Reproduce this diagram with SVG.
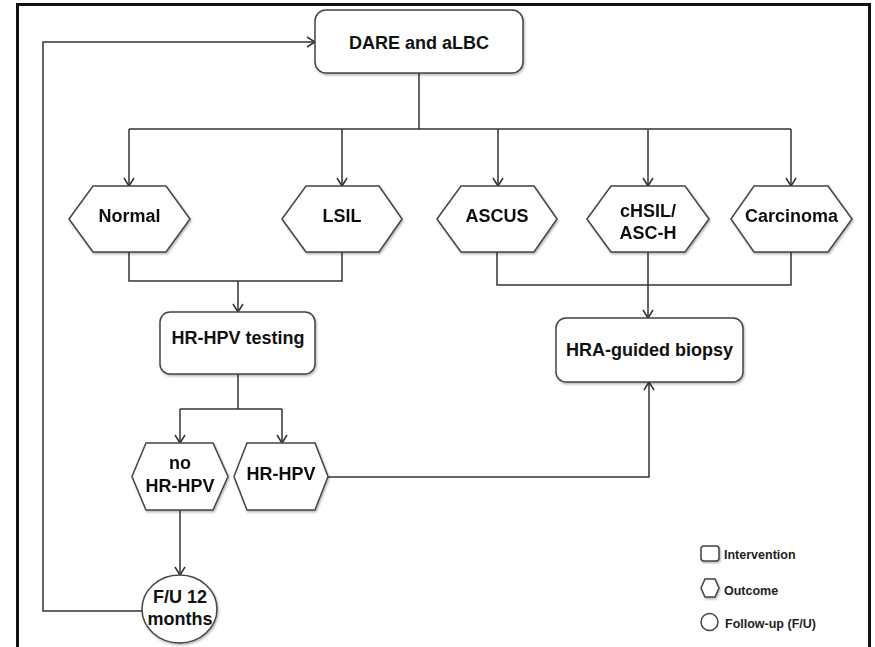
<svg xmlns="http://www.w3.org/2000/svg" width="875" height="647" viewBox="0 0 875 647">
  <defs>
    <filter id="shadow" x="-10%" y="-10%" width="125%" height="130%">
      <feDropShadow dx="1" dy="1.5" stdDeviation="1" flood-color="#000" flood-opacity="0.3"/>
    </filter>
    <marker id="arrow" markerUnits="userSpaceOnUse" markerWidth="12" markerHeight="12" refX="9" refY="6" orient="auto">
      <path d="M1,1 L9,6 L1,11" fill="none" stroke="#333" stroke-width="1.5"/>
    </marker>
  </defs>
  <style>
    .box { fill: #fff; stroke: #444; stroke-width: 1.5; filter: url(#shadow); }
    .hex { fill: #fff; stroke: #444; stroke-width: 1.5; }
    .lbl { font-family: "Liberation Sans", Arial, sans-serif; font-weight: bold; font-size: 18px; fill: #111; text-anchor: middle; }
    .leg { font-family: "Liberation Sans", Arial, sans-serif; font-weight: bold; font-size: 12.5px; fill: #222; }
    .wire { fill: none; stroke: #333; stroke-width: 1.5; }
    .arr { marker-end: url(#arrow); }
  </style>

  <rect width="875" height="647" fill="#fff"/>

  <!-- frame, open at the bottom -->
  <path d="M17.5,647 V4.5 H869.5 V647" fill="none" stroke="#111" stroke-width="3"/>

  <!-- connectors -->
  <g id="connectors">
    <path class="wire arr" d="M142,611 H43 V42 H315"/>
    <path class="wire" d="M419,73 V129" stroke-width="3"/>
    <path class="wire" d="M129,129 H791"/>
    <path class="wire arr" d="M129,129 V186"/>
    <path class="wire arr" d="M342,129 V186"/>
    <path class="wire arr" d="M498,129 V186"/>
    <path class="wire arr" d="M648,129 V186"/>
    <path class="wire arr" d="M791,129 V186"/>
    <path class="wire" d="M129,252 V281 H342 V252"/>
    <path class="wire arr" d="M238,281 V312"/>
    <path class="wire" d="M497,252 V285 H791 V252"/>
    <path class="wire arr" d="M648,252 V318" stroke-width="2"/>
    <path class="wire" d="M238,374 V409"/>
    <path class="wire" d="M180,409 H282"/>
    <path class="wire arr" d="M180,409 V443"/>
    <path class="wire arr" d="M282,409 V443"/>
    <path class="wire arr" d="M180,510 V575"/>
    <path class="wire arr" d="M328,477 H649 V382"/>
  </g>

  <!-- interventions -->
  <g id="dare">
    <rect class="box" x="315" y="10" width="208" height="63" rx="11"/>
    <text class="lbl" x="419" y="49">DARE and aLBC</text>
  </g>
  <g id="hrhpv-testing">
    <rect class="box" x="160" y="312" width="155" height="62" rx="10"/>
    <text class="lbl" x="238" y="344">HR-HPV testing</text>
  </g>
  <g id="hra-biopsy">
    <rect class="box" x="556" y="318" width="187" height="64" rx="10"/>
    <text class="lbl" x="649.5" y="356">HRA-guided biopsy</text>
  </g>

  <!-- cytology outcomes -->
  <g id="normal" filter="url(#shadow)">
    <polygon class="hex" points="69,219 93,186 166,186 190,219 166,252 93,252"/>
    <text class="lbl" x="129.5" y="222">Normal</text>
  </g>
  <g id="lsil" filter="url(#shadow)">
    <polygon class="hex" points="282,219 306,186 379,186 402,219 379,252 306,252"/>
    <text class="lbl" x="342" y="222">LSIL</text>
  </g>
  <g id="ascus" filter="url(#shadow)">
    <polygon class="hex" points="437,219 461,186 534,186 557,219 534,252 461,252"/>
    <text class="lbl" x="497" y="222">ASCUS</text>
  </g>
  <g id="chsil" filter="url(#shadow)">
    <polygon class="hex" points="587,219 611,186 685,186 709,219 685,252 611,252"/>
    <text class="lbl" x="648" y="217">cHSIL/</text>
    <text class="lbl" x="648" y="239">ASC-H</text>
  </g>
  <g id="carcinoma" filter="url(#shadow)">
    <polygon class="hex" points="731,219 754,186 828,186 852,219 828,252 754,252"/>
    <text class="lbl" x="791.5" y="222">Carcinoma</text>
  </g>

  <!-- HPV outcomes -->
  <g id="no-hrhpv" filter="url(#shadow)">
    <polygon class="hex" points="132,476.5 146,443 213,443 228,476.5 213,510 146,510"/>
    <text class="lbl" x="180" y="469">no</text>
    <text class="lbl" x="180" y="492">HR-HPV</text>
  </g>
  <g id="hrhpv" filter="url(#shadow)">
    <polygon class="hex" points="234,476.5 247,443 315,443 328,476.5 315,510 247,510"/>
    <text class="lbl" x="281" y="480">HR-HPV</text>
  </g>

  <!-- follow-up -->
  <g id="followup">
    <ellipse class="box" cx="179.5" cy="609" rx="37.5" ry="34"/>
    <text class="lbl" x="180" y="603">F/U 12</text>
    <text class="lbl" x="180" y="625">months</text>
  </g>

  <!-- legend -->
  <g id="legend">
    <rect class="box" x="701" y="546" width="18" height="15" rx="3"/>
    <text class="leg" x="724" y="559">Intervention</text>
    <polygon class="hex" filter="url(#shadow)" points="701,588 705,579 715,579 719,588 715,597 705,597"/>
    <text class="leg" x="724" y="594.5">Outcome</text>
    <circle class="hex" cx="709.5" cy="622" r="8.5"/>
    <text class="leg" x="725" y="627.5">Follow-up (F/U)</text>
  </g>
</svg>
